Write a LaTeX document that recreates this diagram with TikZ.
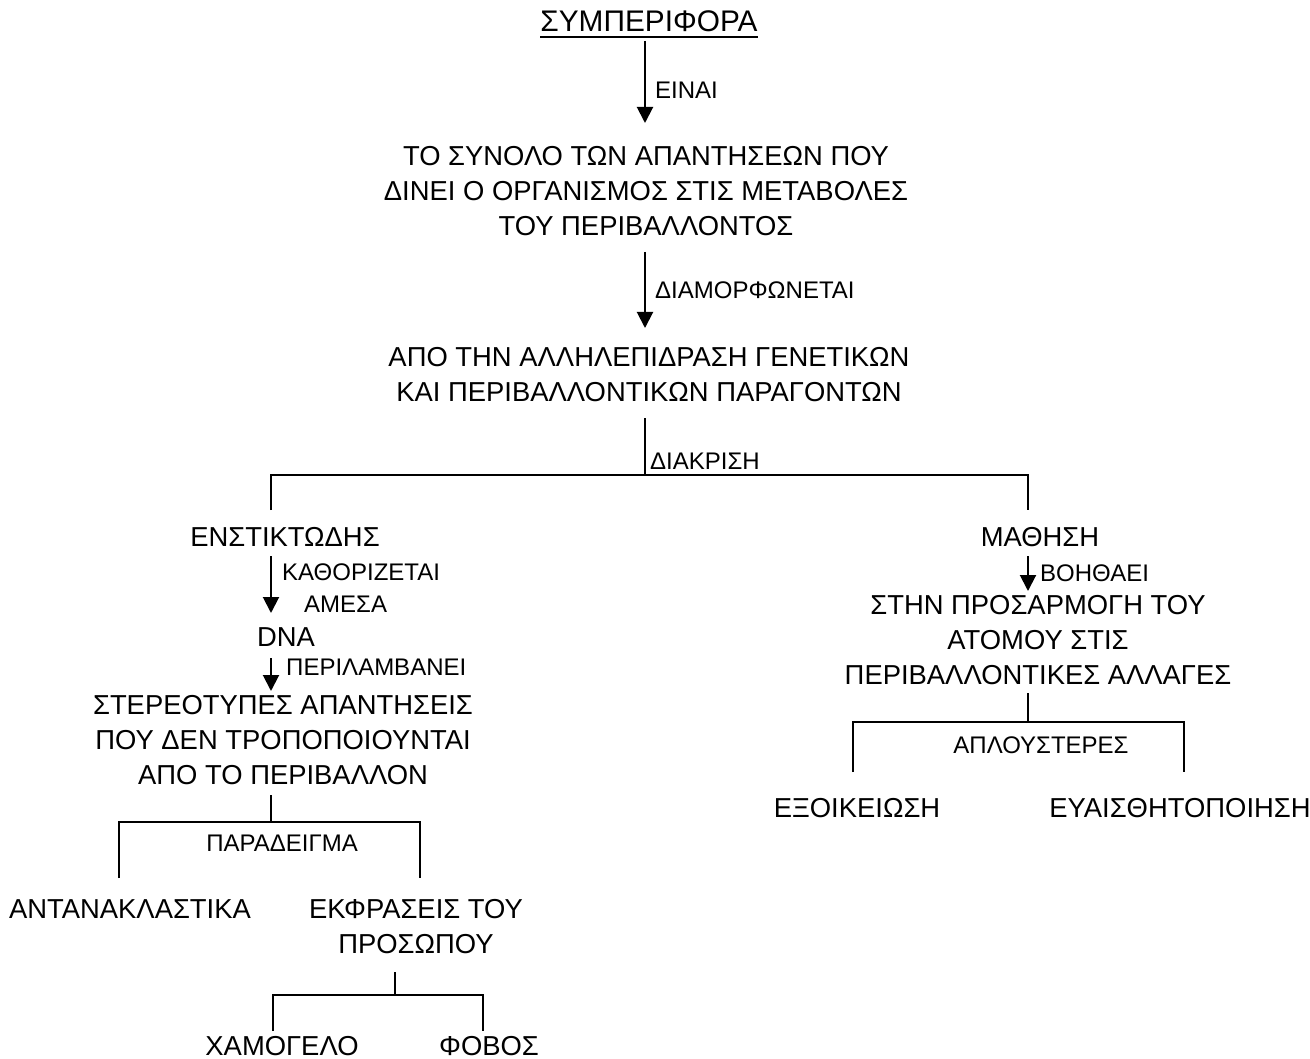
\documentclass[tikz,border=0pt]{standalone}
\usepackage{fontspec}
\setmainfont{Liberation Sans}
\usetikzlibrary{arrows.meta}
\begin{document}
\begin{tikzpicture}[x=1pt,y=-1pt,
  txt/.style={font=\fontsize{27.4}{35}\selectfont, align=center, inner sep=0pt},
  lab/.style={font=\fontsize{24}{32}\selectfont, align=left, inner sep=0pt, anchor=west},
  clab/.style={font=\fontsize{24}{32}\selectfont, inner sep=0pt},
  ln/.style={line width=2pt},
  arr/.style={line width=2pt, -{Triangle[width=16pt,length=16pt]}}]
\useasboundingbox[fill=white] (0,0) rectangle (1310,1059);

% title
\node[txt, font=\fontsize{29.8}{35}\selectfont] (title) at (649,21) {ΣΥΜΠΕΡΙΦΟΡΑ};
\draw[ln] ([yshift=-5pt]title.south west) -- ([yshift=-5pt]title.south east);

% level 1
\coordinate (a1s) at (645,41); \coordinate (a1e) at (645,123);
\draw[arr] (a1s) -- (a1e);
\node[lab] (l1) at (655,90) {ΕΙΝΑΙ};
\node[txt] (b2) at (646,191) {ΤΟ ΣΥΝΟΛΟ ΤΩΝ ΑΠΑΝΤΗΣΕΩΝ ΠΟΥ\\ΔΙΝΕΙ Ο ΟΡΓΑΝΙΣΜΟΣ ΣΤΙΣ ΜΕΤΑΒΟΛΕΣ\\ΤΟΥ ΠΕΡΙΒΑΛΛΟΝΤΟΣ};

\coordinate (a2s) at (645,252); \coordinate (a2e) at (645,328);
\draw[arr] (a2s) -- (a2e);
\node[lab] (l2) at (655,290) {ΔΙΑΜΟΡΦΩΝΕΤΑΙ};
\node[txt] (b3) at (649,374.5) {ΑΠΟ ΤΗΝ ΑΛΛΗΛΕΠΙΔΡΑΣΗ ΓΕΝΕΤΙΚΩΝ\\ΚΑΙ ΠΕΡΙΒΑΛΛΟΝΤΙΚΩΝ ΠΑΡΑΓΟΝΤΩΝ};

% split 1
\coordinate (t1s) at (645,418); \coordinate (t1j) at (645,475);
\coordinate (t1l) at (271,475); \coordinate (t1r) at (1028,475);
\coordinate (t1le) at (271,510); \coordinate (t1re) at (1028,510);
\draw[ln] (t1s) -- (t1j);
\draw[ln] (t1le) -- (t1l) -- (t1r) -- (t1re);
\node[lab] (l3) at (650,461) {ΔΙΑΚΡΙΣΗ};

\node[txt] (enst) at (285,537) {ΕΝΣΤΙΚΤΩΔΗΣ};
\node[txt] (math) at (1040,537) {ΜΑΘΗΣΗ};

% left branch
\coordinate (a3s) at (271,556); \coordinate (a3e) at (271,613);
\draw[arr] (a3s) -- (a3e);
\node[lab] (l4) at (282,588) {ΚΑΘΟΡΙΖΕΤΑΙ\\\hspace*{22pt}ΑΜΕΣΑ};
\node[txt] (dna) at (286,637) {DNA};
\coordinate (a4s) at (271,658); \coordinate (a4e) at (271,691);
\draw[arr] (a4s) -- (a4e);
\node[lab] (l5) at (286,667) {ΠΕΡΙΛΑΜΒΑΝΕΙ};
\node[txt] (ster) at (283,740) {ΣΤΕΡΕΟΤΥΠΕΣ ΑΠΑΝΤΗΣΕΙΣ\\ΠΟΥ ΔΕΝ ΤΡΟΠΟΠΟΙΟΥΝΤΑΙ\\ΑΠΟ ΤΟ ΠΕΡΙΒΑΛΛΟΝ};

\coordinate (t2s) at (271,795); \coordinate (t2j) at (271,822);
\coordinate (t2l) at (119,822); \coordinate (t2r) at (420,822);
\coordinate (t2le) at (119,878); \coordinate (t2re) at (420,878);
\draw[ln] (t2s) -- (t2j);
\draw[ln] (t2le) -- (t2l) -- (t2r) -- (t2re);
\node[clab] (l6) at (282,843) {ΠΑΡΑΔΕΙΓΜΑ};

\node[txt] (ant) at (130,909) {ΑΝΤΑΝΑΚΛΑΣΤΙΚΑ};
\node[txt] (ekf) at (416,927) {ΕΚΦΡΑΣΕΙΣ ΤΟΥ\\ΠΡΟΣΩΠΟΥ};

\coordinate (t3s) at (395,972); \coordinate (t3j) at (395,995);
\coordinate (t3l) at (273,995); \coordinate (t3r) at (483,995);
\coordinate (t3le) at (273,1031); \coordinate (t3re) at (483,1031);
\draw[ln] (t3s) -- (t3j);
\draw[ln] (t3le) -- (t3l) -- (t3r) -- (t3re);

\node[txt] (xam) at (282,1046) {ΧΑΜΟΓΕΛΟ};
\node[txt] (fob) at (489,1046) {ΦΟΒΟΣ};

% right branch
\coordinate (a5s) at (1028,556); \coordinate (a5e) at (1028,591);
\draw[arr] (a5s) -- (a5e);
\node[lab] (l7) at (1040,573) {ΒΟΗΘΑΕΙ};
\node[txt] (pros) at (1038,640) {ΣΤΗΝ ΠΡΟΣΑΡΜΟΓΗ ΤΟΥ\\ΑΤΟΜΟΥ ΣΤΙΣ\\ΠΕΡΙΒΑΛΛΟΝΤΙΚΕΣ ΑΛΛΑΓΕΣ};

\coordinate (t4s) at (1028,693); \coordinate (t4j) at (1028,722);
\coordinate (t4l) at (853,722); \coordinate (t4r) at (1184,722);
\coordinate (t4le) at (853,772); \coordinate (t4re) at (1184,772);
\draw[ln] (t4s) -- (t4j);
\draw[ln] (t4le) -- (t4l) -- (t4r) -- (t4re);
\node[clab] (l8) at (1041,745) {ΑΠΛΟΥΣΤΕΡΕΣ};

\node[txt] (exo) at (857,808) {ΕΞΟΙΚΕΙΩΣΗ};
\node[txt] (eva) at (1180,808) {ΕΥΑΙΣΘΗΤΟΠΟΙΗΣΗ};
\end{tikzpicture}
\end{document}
